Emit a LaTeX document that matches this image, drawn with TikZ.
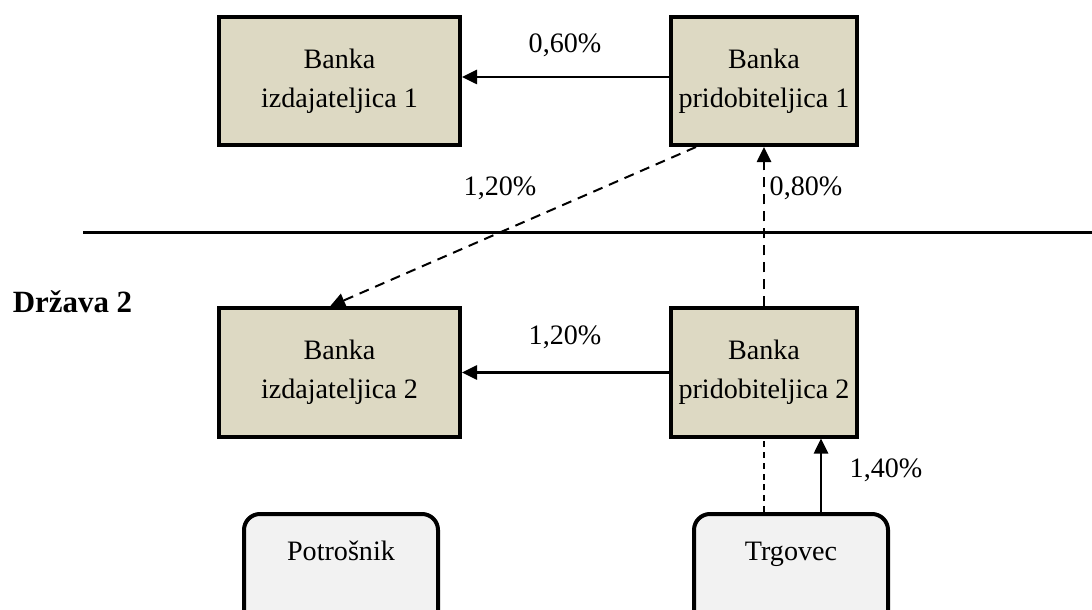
\documentclass[tikz,border=0pt]{standalone}
\usepackage{fontspec}
\setmainfont{Liberation Serif}
\usetikzlibrary{arrows.meta, calc}
\definecolor{bankfill}{HTML}{DDD9C3}
\definecolor{userfill}{HTML}{F2F2F2}

\begin{document}
\begin{tikzpicture}[
        x=0.25mm, y=-0.25mm,
        font=\fontsize{20}{27.7}\selectfont,
        bank/.style={draw, line width=1mm, fill=bankfill, align=center, minimum height=32mm, inner sep=0pt},
        user/.style={draw, line width=1mm, fill=userfill, rounded corners=4mm, minimum width=48.5mm, inner sep=0pt, text height=11.5mm, text depth=25mm, anchor=base},
        flow/.style={line width=0.5mm, -{Triangle[length=3.8mm, width=3.6mm]}},
        longdash/.style={dash pattern=on 2.5mm off 1.75mm},
        shortdash/.style={line width=0.35mm, dash pattern=on 1.5mm off 1.2mm},
        rate/.style={inner sep=0pt}
    ]

        % Fix the frame of the picture
        \useasboundingbox (0,0) rectangle (1092,610);
        \clip (0,0) rectangle (1092,610);

        % Banks of both countries
        \node[bank, minimum width=60.25mm] (izd1) at (339.5,81) {Banka\\izdajateljica 1};
        \node[bank, minimum width=46.5mm] (prid1) at (764,81) {Banka\\pridobiteljica 1};
        \node[bank, minimum width=60.25mm] (izd2) at (339.5,372.5) {Banka\\izdajateljica 2};
        \node[bank, minimum width=46.5mm] (prid2) at (764,372.5) {Banka\\pridobiteljica 2};

        % Consumer and merchant
        \node[user] (potr) at (341,560) {Potrošnik};
        \node[user] (trg) at (791,560) {Trgovec};

        % Border between the countries
        \coordinate (divL) at (83,233);
        \coordinate (divR) at (1092,233);
        \draw[line width=0.75mm] (divL) -- (divR);
        \node[font=\fontsize{22}{26}\selectfont\bfseries] (land2) at (72.5,302) {Država 2};

        % Fees between the banks
        \draw[flow] ([yshift=1mm]prid1.west) -- ([yshift=1mm]izd1.east);
        \draw[flow] (prid2.west) -- (izd2.east);
        \draw[flow, longdash] ([xshift=6.75mm]prid1.south west) -- ([xshift=-2.4mm]izd2.north);
        \draw[flow, longdash] (prid2.north) -- (prid1.south);

        % Merchant to acquirer
        \draw[shortdash] (prid2.south |- trg.north) -- (prid2.south);
        \draw[flow] ([xshift=7.5mm]trg.north) -- ([xshift=7.5mm]trg.north |- prid2.south);

        % Rates
        \node[rate] (r060) at (565,45) {0,60\%};
        \node[rate] (r120a) at (500,188) {1,20\%};
        \node[rate] (r080) at (806,188) {0,80\%};
        \node[rate] (r120b) at (565,337) {1,20\%};
        \node[rate] (r140) at (886,470) {1,40\%};

    \end{tikzpicture}
\end{document}
